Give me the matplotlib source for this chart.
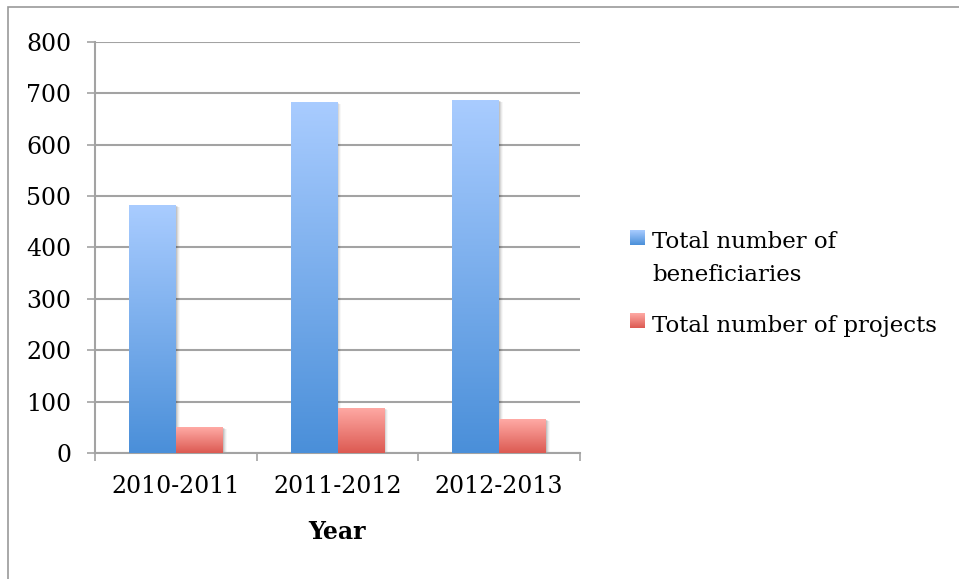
import numpy as np
import matplotlib
matplotlib.use("Agg")
import matplotlib.pyplot as plt
from matplotlib.patches import Rectangle
from matplotlib.colors import LinearSegmentedColormap
import matplotlib.transforms as mtransforms

# Data
years = ["2010-2011", "2011-2012", "2012-2013"]
beneficiaries = [482, 683, 687]
projects = [50, 88, 66]
series_names = [["Total number of", "beneficiaries"], ["Total number of projects"]]
y_ticks = [0, 100, 200, 300, 400, 500, 600, 700, 800]

FONT = "DejaVu Serif"
FS = 17
GRID = "#a3a3a3"

blue_cmap = LinearSegmentedColormap.from_list("blue_grad", ["#4a8fd9", "#a9ccff"])
red_cmap = LinearSegmentedColormap.from_list("red_grad", ["#dc5a52", "#ffaaa5"])

W, H = 959, 579
fig = plt.figure(figsize=(W / 100, H / 100), dpi=100)
ax = fig.add_axes([95 / W, 1 - 453 / H, (580 - 95) / W, (453 - 42) / H])

ax.set_xlim(-0.5, 2.5)
ax.set_ylim(0, 800)
ax.set_yticks(y_ticks)
ax.set_yticklabels([str(v) for v in y_ticks], fontfamily=FONT, fontsize=FS)
ax.set_xticks(range(len(years)))
ax.set_xticklabels(years, fontfamily=FONT, fontsize=FS)
ax.tick_params(axis="x", length=0, pad=16)
ax.tick_params(axis="y", length=6, width=1.2, color=GRID, pad=11)

# category separators on the x axis
ax.set_xticks([-0.5, 0.5, 1.5, 2.5], minor=True)
ax.tick_params(axis="x", which="minor", length=6, width=1.2, color=GRID, direction="out")

for s in ["top", "right"]:
    ax.spines[s].set_visible(False)
for s in ["left", "bottom"]:
    ax.spines[s].set_color(GRID)
    ax.spines[s].set_linewidth(1.5)

ax.yaxis.grid(True, color=GRID, linewidth=1.5)
ax.set_axisbelow(True)

ax.set_xlabel("Year", fontfamily=FONT, fontsize=FS, fontweight="bold", labelpad=16)

width = 0.29
grad = np.linspace(0, 1, 256).reshape(-1, 1)


def gradient_bar(x, h, cmap):
    # soft shadow to the right/bottom
    for k, a in zip((1, 2, 3, 4), (0.10, 0.07, 0.05, 0.03)):
        tr = mtransforms.offset_copy(ax.transData, fig=fig, x=k, y=-k * 0.5, units="dots")
        ax.add_patch(Rectangle((x - width / 2, 0), width, h, facecolor="#000000",
                               alpha=a, edgecolor="none", transform=tr, zorder=2))
    rect = Rectangle((x - width / 2, 0), width, h, facecolor="none", edgecolor="none", zorder=3)
    ax.add_patch(rect)
    im = ax.imshow(grad, cmap=cmap, origin="lower", aspect="auto",
                   extent=(x - width / 2, x + width / 2, 0, h), zorder=3,
                   interpolation="bilinear")
    im.set_clip_path(rect)


for i in range(len(years)):
    gradient_bar(i - width / 2, beneficiaries[i], blue_cmap)
    gradient_bar(i + width / 2, projects[i], red_cmap)

ax.set_xlim(-0.5, 2.5)
ax.set_ylim(0, 800)

# legend
for (lines, cmap, sq_top, baselines) in [
    (series_names[0], blue_cmap, 230, [248, 281]),
    (series_names[1], red_cmap, 313, [332]),
]:
    lax = fig.add_axes([630 / W, 1 - (sq_top + 15) / H, 15 / W, 15 / H])
    lax.imshow(grad, cmap=cmap, origin="lower", aspect="auto")
    lax.axis("off")
    for line, b in zip(lines, baselines):
        fig.text(652 / W, 1 - b / H, line, fontfamily=FONT, fontsize=16.5,
                 va="baseline", ha="left")

# outer frame
fig.patches.append(Rectangle((8 / W, -0.1), 1.2, 1 - 7 / H + 0.1, transform=fig.transFigure,
                             facecolor="none", edgecolor="#999999", linewidth=1.2))

fig.savefig("out.png", dpi=100)
